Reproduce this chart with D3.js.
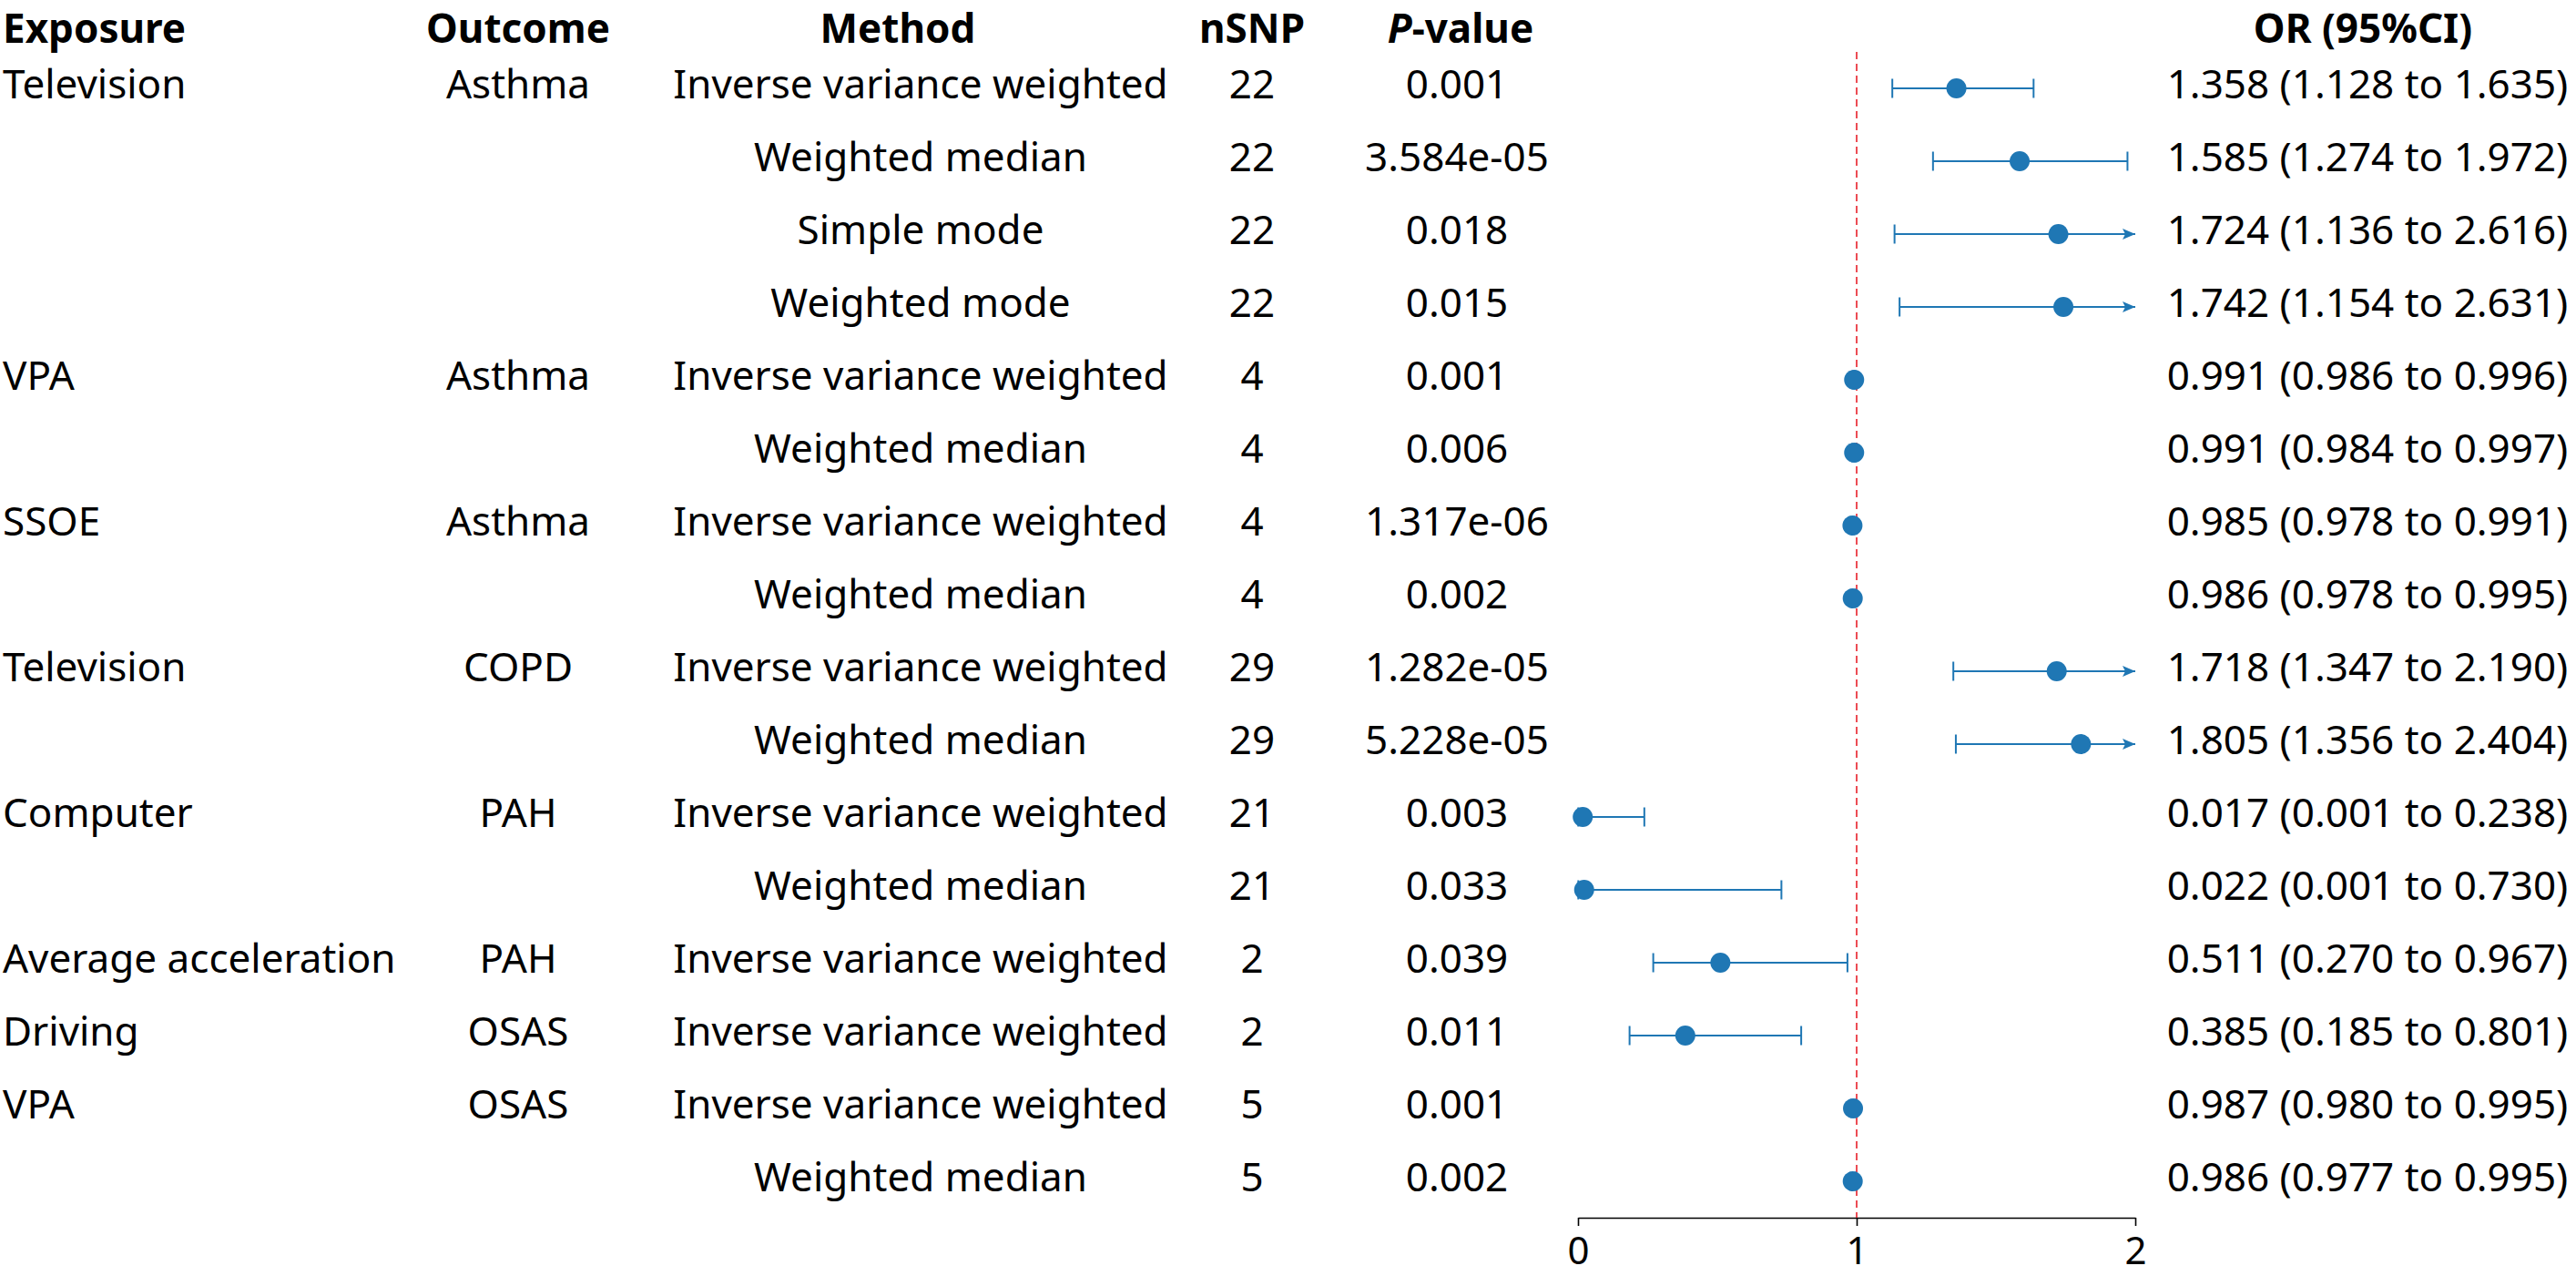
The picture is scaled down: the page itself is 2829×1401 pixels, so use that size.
<html>
<head>
  <script src="https://d3js.org/d3.v7.min.js"></script>
  <style>
    body { margin: 0; background: #fff; }
    text { font-family: "Noto Sans", sans-serif; fill: #000; }
    .head { font-weight: bold; font-size: 44px; }
    .cell { font-size: 44px; }
    .x-axis text { font-size: 42px; font-family: "Noto Sans", sans-serif; }
  </style>
</head>
<body>
<div id="chart"></div>
<script type="text/javascript">

// table columns, one entry per row
const exposures = ["Television", "", "", "", "VPA", "", "SSOE", "", "Television", "", "Computer", "", "Average acceleration", "Driving", "VPA", ""];
const outcomes = ["Asthma", "", "", "", "Asthma", "", "Asthma", "", "COPD", "", "PAH", "", "PAH", "OSAS", "OSAS", ""];
const methods = ["Inverse variance weighted", "Weighted median", "Simple mode", "Weighted mode",
  "Inverse variance weighted", "Weighted median", "Inverse variance weighted", "Weighted median",
  "Inverse variance weighted", "Weighted median", "Inverse variance weighted", "Weighted median",
  "Inverse variance weighted", "Inverse variance weighted", "Inverse variance weighted", "Weighted median"];
const nsnp = [22, 22, 22, 22, 4, 4, 4, 4, 29, 29, 21, 21, 2, 2, 5, 5];
const pvalues = ["0.001", "3.584e-05", "0.018", "0.015", "0.001", "0.006", "1.317e-06", "0.002",
  "1.282e-05", "5.228e-05", "0.003", "0.033", "0.039", "0.011", "0.001", "0.002"];
const orValues = [1.358, 1.585, 1.724, 1.742, 0.991, 0.991, 0.985, 0.986, 1.718, 1.805, 0.017, 0.022, 0.511, 0.385, 0.987, 0.986];
const lowerCI = [1.128, 1.274, 1.136, 1.154, 0.986, 0.984, 0.978, 0.978, 1.347, 1.356, 0.001, 0.001, 0.270, 0.185, 0.980, 0.977];
const upperCI = [1.635, 1.972, 2.616, 2.631, 0.996, 0.997, 0.991, 0.995, 2.190, 2.404, 0.238, 0.730, 0.967, 0.801, 0.995, 0.995];
const xTicks = [0, 1, 2];

const W = 2829, H = 1401;
const blue = "#1f77b4";

const svg = d3.select("#chart").append("svg")
  .attr("width", W)
  .attr("height", H);

const rows = d3.range(methods.length);
const y = d3.scalePoint().domain(rows).range([97, 1297]);
const x = d3.scaleLinear().domain([0, 2]).range([1733, 2345]);
const fmt = d3.format(".3f");

// headers
const headY = 47;
svg.append("text").attr("class", "head").attr("x", 3).attr("y", headY).text("Exposure");
svg.append("text").attr("class", "head").attr("x", 569).attr("y", headY).attr("text-anchor", "middle").text("Outcome");
svg.append("text").attr("class", "head").attr("x", 986).attr("y", headY).attr("text-anchor", "middle").text("Method");
svg.append("text").attr("class", "head").attr("x", 1375).attr("y", headY).attr("text-anchor", "middle").text("nSNP");
const ph = svg.append("text").attr("class", "head").attr("x", 1604).attr("y", headY).attr("text-anchor", "middle");
ph.append("tspan").style("font-style", "italic").text("P");
ph.append("tspan").text("-value");
svg.append("text").attr("class", "head").attr("x", 2595).attr("y", headY).attr("text-anchor", "middle").text("OR (95%CI)");

// table cells
const cols = [
  { vals: exposures, x: 3, anchor: "start" },
  { vals: outcomes, x: 569, anchor: "middle" },
  { vals: methods, x: 1011, anchor: "middle" },
  { vals: nsnp, x: 1375, anchor: "middle" },
  { vals: pvalues, x: 1600, anchor: "middle" },
  { vals: rows.map(i => `${fmt(orValues[i])} (${fmt(lowerCI[i])} to ${fmt(upperCI[i])})`), x: 2600, anchor: "middle" }
];
cols.forEach(c => {
  svg.append("g").selectAll("text")
    .data(rows)
    .join("text")
    .attr("class", "cell")
    .attr("x", c.x)
    .attr("y", i => y(i) + 11)
    .attr("text-anchor", c.anchor)
    .text(i => c.vals[i]);
});

// axis
svg.append("g")
  .attr("class", "x-axis")
  .attr("transform", "translate(0,1337)")
  .call(d3.axisBottom(x).tickValues(xTicks).tickFormat(d3.format("d")).tickSize(9).tickSizeOuter(0).tickPadding(12))
  .call(g => g.selectAll("line, path").attr("stroke", "#000").attr("stroke-width", 1.6));

// reference line at OR = 1
svg.append("line")
  .attr("x1", x(1)).attr("x2", x(1))
  .attr("y1", 57).attr("y2", 1337)
  .attr("stroke", "#e8202a")
  .attr("stroke-width", 1.6)
  .attr("stroke-dasharray", "8,5");

svg.append("defs").append("marker")
  .attr("id", "arrow")
  .attr("viewBox", "0 0 14 12")
  .attr("refX", 14).attr("refY", 6)
  .attr("markerWidth", 14).attr("markerHeight", 12)
  .attr("markerUnits", "userSpaceOnUse")
  .attr("orient", "auto")
  .append("path")
  .attr("d", "M0,0 L14,6 L0,12 L3,6 Z")
  .attr("fill", blue);

const maxX = x.domain()[1];
const ci = svg.append("g");

// CI lines
ci.selectAll(".ci")
  .data(rows)
  .join("line")
  .attr("class", "ci")
  .attr("x1", i => x(lowerCI[i]))
  .attr("x2", i => x(Math.min(upperCI[i], maxX)))
  .attr("y1", i => y(i)).attr("y2", i => y(i))
  .attr("stroke", blue)
  .attr("stroke-width", 2)
  .attr("marker-end", i => upperCI[i] > maxX ? "url(#arrow)" : null);

// caps
ci.selectAll(".capl")
  .data(rows)
  .join("line")
  .attr("class", "capl")
  .attr("x1", i => x(lowerCI[i])).attr("x2", i => x(lowerCI[i]))
  .attr("y1", i => y(i) - 10.5).attr("y2", i => y(i) + 10.5)
  .attr("stroke", blue).attr("stroke-width", 2);
ci.selectAll(".capr")
  .data(rows.filter(i => upperCI[i] <= maxX))
  .join("line")
  .attr("class", "capr")
  .attr("x1", i => x(upperCI[i])).attr("x2", i => x(upperCI[i]))
  .attr("y1", i => y(i) - 10.5).attr("y2", i => y(i) + 10.5)
  .attr("stroke", blue).attr("stroke-width", 2);

// points
ci.selectAll("circle")
  .data(rows)
  .join("circle")
  .attr("cx", i => x(orValues[i]))
  .attr("cy", i => y(i))
  .attr("r", 11)
  .attr("fill", blue);

</script>
</body>
</html>
